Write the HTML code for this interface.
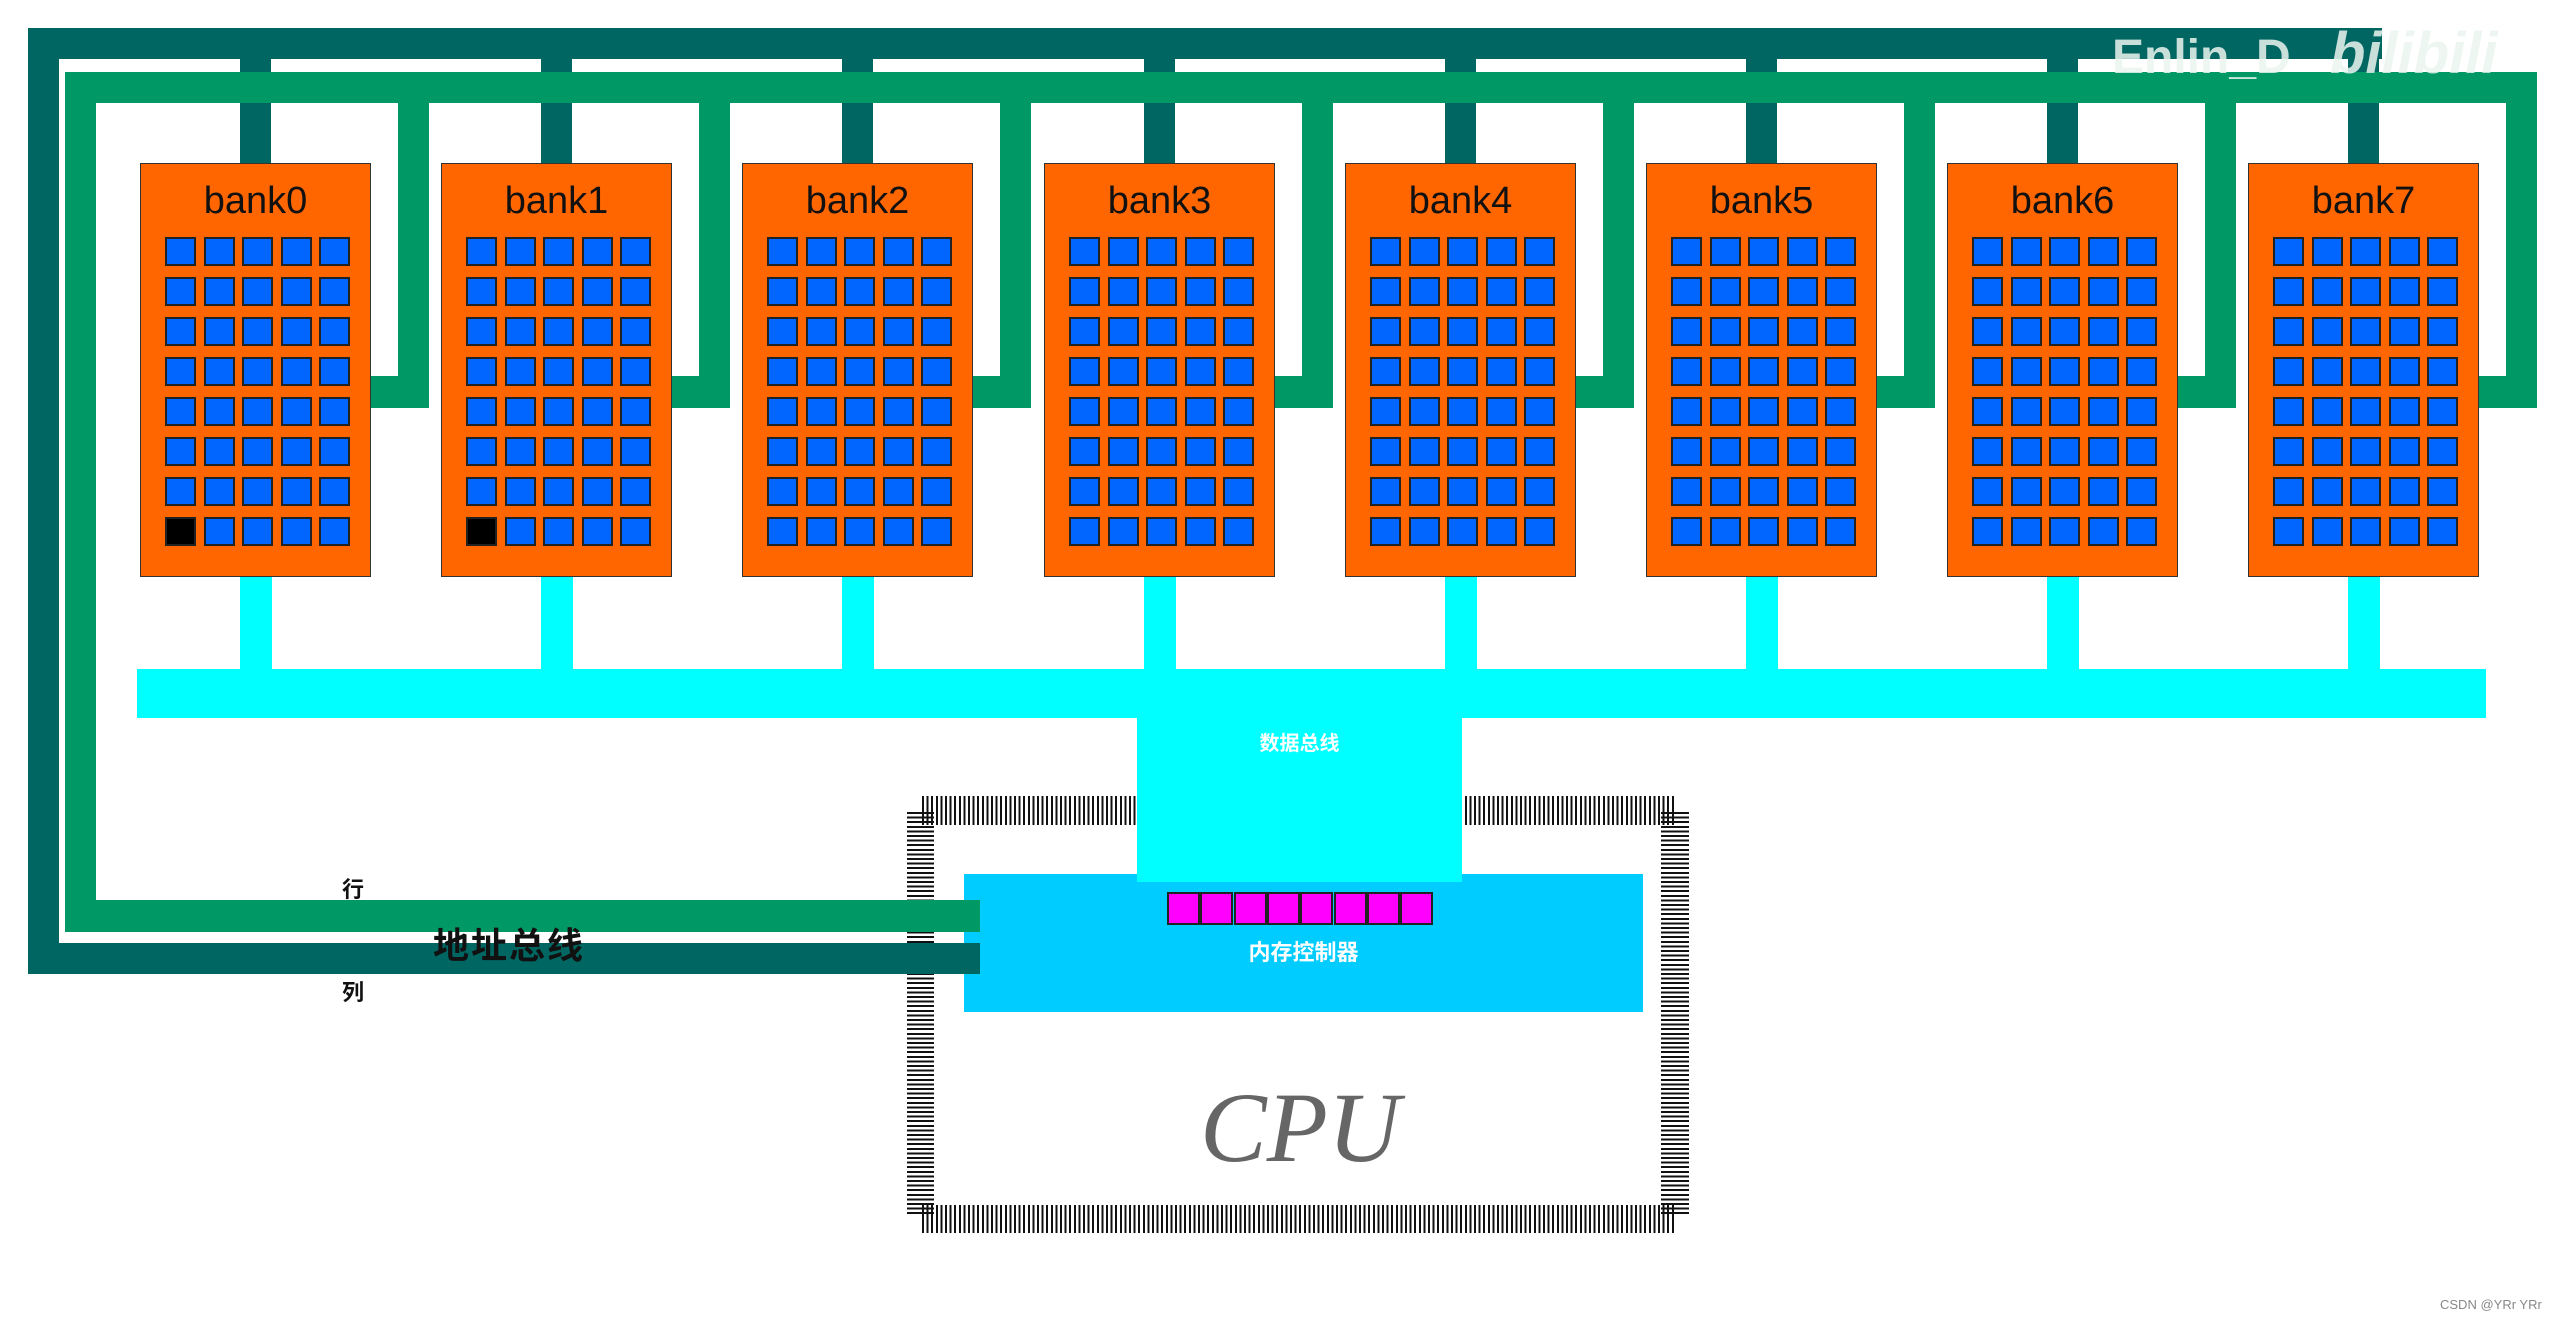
<!DOCTYPE html>
<html><head><meta charset="utf-8"><style>
html,body{margin:0;padding:0;background:#fff;}
body{width:2553px;height:1321px;position:relative;overflow:hidden;font-family:"Liberation Sans","Noto Sans CJK SC",sans-serif;}
.a{position:absolute;}
.dk{background:#006661;}
.gr{background:#009966;}
.cy{background:#00ffff;}
.bank{position:absolute;top:163px;width:229px;height:412px;background:#ff6600;border:1px solid #333;}
.bank .t{position:absolute;left:0;right:0;top:16px;text-align:center;font-size:38px;color:#111;}
.cell{position:absolute;width:27px;height:25px;background:#0066ff;border:2px solid #222;}
.cell.b{background:#000;}
.mg{position:absolute;top:892px;width:29px;height:29px;background:#ff00ff;border:2px solid #222;}
</style></head><body>
<div class="a dk" style="left:28px;top:28px;width:2354px;height:31px"></div>
<div class="a dk" style="left:28px;top:28px;width:31px;height:946px"></div>
<div class="a dk" style="left:28px;top:943px;width:952px;height:31px"></div>
<div id="stubs"></div>
<div class="a gr" style="left:65px;top:72px;width:2472px;height:31px"></div>
<div class="a gr" style="left:65px;top:72px;width:31px;height:860px"></div>
<div class="a gr" style="left:65px;top:900px;width:915px;height:32px"></div>
<div class="a gr" style="left:2506px;top:72px;width:31px;height:336px"></div>

<div class="a cy" style="left:137px;top:669px;width:2349px;height:49px"></div>

<div class="a" style="left:922px;top:796px;width:753px;height:29px;background:repeating-linear-gradient(90deg,#111 0 2px,transparent 2px 4.6px)"></div>
<div class="a" style="left:922px;top:1205px;width:753px;height:28px;background:repeating-linear-gradient(90deg,#111 0 2px,transparent 2px 4.6px)"></div>
<div class="a" style="left:907px;top:812px;width:27px;height:404px;background:repeating-linear-gradient(180deg,#111 0 2px,transparent 2px 4.6px)"></div>
<div class="a" style="left:1661px;top:812px;width:28px;height:404px;background:repeating-linear-gradient(180deg,#111 0 2px,transparent 2px 4.6px)"></div>
<div class="a" style="left:934px;top:825px;width:727px;height:380px;background:#fff"></div>

<div class="a cy" style="left:1137px;top:700px;width:325px;height:182px"></div>
<div class="a" style="left:964px;top:874px;width:679px;height:138px;background:#00ccff"></div>
<div class="a cy" style="left:1137px;top:874px;width:325px;height:8px"></div>
<div class="a" style="left:1137px;top:727px;width:325px;text-align:center;color:#fff;font-size:20px;font-weight:bold;font-family:'Liberation Sans','Noto Sans CJK SC',sans-serif">数据总线</div>
<div class="a" style="left:964px;top:935px;width:679px;text-align:center;color:#fff;font-size:22px;font-weight:bold;font-family:'Liberation Sans','Noto Sans CJK SC',sans-serif">内存控制器</div>
<div id="mgs"></div>
<div class="a gr" style="left:96px;top:900px;width:884px;height:32px"></div>
<div class="a dk" style="left:59px;top:943px;width:921px;height:31px"></div>

<div class="a" style="left:1100px;top:1070px;width:400px;text-align:center;font-family:'Liberation Serif',serif;font-style:italic;font-size:100px;color:#666">CPU</div>

<div class="a" style="left:342px;top:872px;font-size:22px;font-weight:bold;color:#111;font-family:'Liberation Sans','Noto Sans CJK SC',sans-serif">行</div>
<div class="a" style="left:433px;top:917px;font-size:36px;font-weight:bold;color:#111;letter-spacing:2px;font-family:'Liberation Sans','Noto Sans CJK SC',sans-serif">地址总线</div>
<div class="a" style="left:342px;top:975px;font-size:22px;font-weight:bold;color:#111;font-family:'Liberation Sans','Noto Sans CJK SC',sans-serif">列</div>

<div class="bank" style="left:140px"><div class="t">bank0</div></div>
<div class="bank" style="left:441px"><div class="t">bank1</div></div>
<div class="bank" style="left:742px"><div class="t">bank2</div></div>
<div class="bank" style="left:1044px"><div class="t">bank3</div></div>
<div class="bank" style="left:1345px"><div class="t">bank4</div></div>
<div class="bank" style="left:1646px"><div class="t">bank5</div></div>
<div class="bank" style="left:1947px"><div class="t">bank6</div></div>
<div class="bank" style="left:2248px"><div class="t">bank7</div></div>

<div class="a" style="left:2112px;top:30px;font-size:48px;font-weight:bold;color:rgba(235,245,240,0.85)">Enlin_D</div>
<div class="a" style="left:2330px;top:20px;font-size:58px;font-weight:bold;font-style:italic;color:rgba(235,245,240,0.85)">bilibili</div>
<div class="a" style="left:2440px;top:1297px;font-size:13px;color:#888">CSDN @YRr YRr</div>

<script>
var xs=[140,441,742,1044,1345,1646,1947,2248];
var s='';
xs.forEach(function(x,i){
 s+='<div class="a dk" style="left:'+(x+100)+'px;top:40px;width:31px;height:124px"></div>';
 s+='<div class="a gr" style="left:'+(x+258)+'px;top:72px;width:31px;height:336px"></div>';
 s+='<div class="a gr" style="left:'+(x+230)+'px;top:376px;width:59px;height:32px"></div>';
 s+='<div class="a cy" style="left:'+(x+100)+'px;top:577px;width:32px;height:100px"></div>';
});
document.getElementById('stubs').innerHTML=s;
var banks=document.querySelectorAll('.bank');
banks.forEach(function(b,i){
 var h='';
 for(var r=0;r<8;r++)for(var c=0;c<5;c++){
  var cls='cell'+((r==7&&c==0&&i<2)?' b':'');
  h+='<div class="'+cls+'" style="left:'+(24+c*38.5)+'px;top:'+(73+r*40)+'px"></div>';
 }
 b.insertAdjacentHTML('beforeend',h);
});
var m='';
for(var k=0;k<8;k++)m+='<div class="mg" style="left:'+(1167+k*33.3)+'px"></div>';
document.getElementById('mgs').innerHTML=m;
</script>
</body></html>
